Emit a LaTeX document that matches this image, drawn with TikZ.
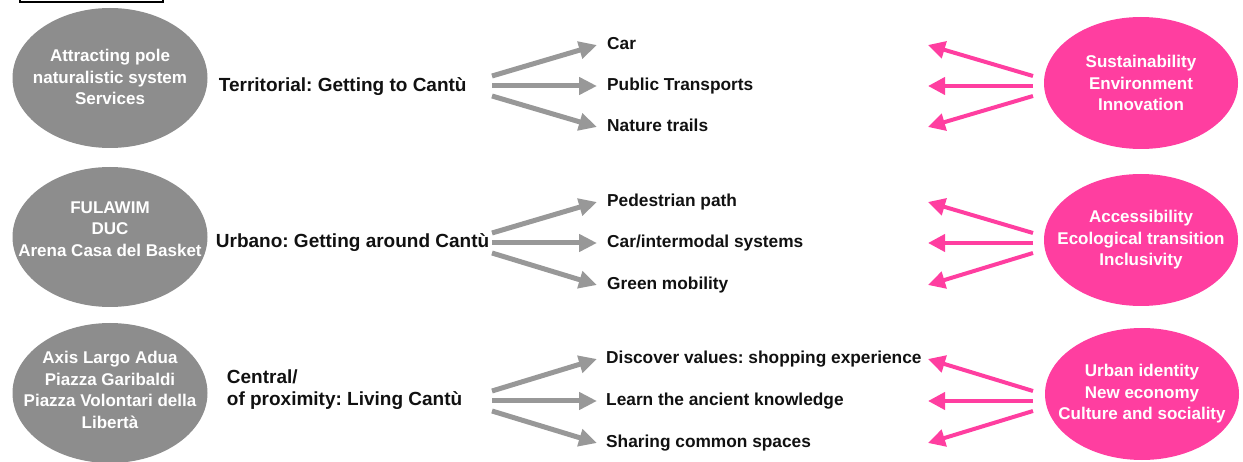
\documentclass[tikz,border=0pt]{standalone}
\usepackage{fontspec}
\setmainfont{Liberation Sans}
\usetikzlibrary{arrows.meta,positioning,shapes.geometric}
\frenchspacing

\definecolor{poleGray}{RGB}{141,141,141}
\definecolor{flowGray}{RGB}{152,152,152}
\definecolor{goalPink}{RGB}{255,62,160}
\definecolor{inkBlack}{RGB}{17,17,17}

\tikzset{
	pole/.style={ellipse, fill=poleGray, minimum width=195pt, minimum height=140pt, inner sep=0pt},
	goal/.style={pole, fill=goalPink, minimum width=194pt, minimum height=132pt},
	poletext/.style={text=white, align=center, inner sep=0pt, font=\bfseries\fontsize{17}{21.5}\selectfont},
	theme/.style={anchor=west, align=left, inner sep=0pt, text=inkBlack, font=\bfseries\fontsize{19}{22}\selectfont},
	choice/.style={anchor=west, inner sep=0pt, text height=12pt, text depth=3.5pt, text=inkBlack, font=\bfseries\fontsize{17.3}{20}\selectfont},
	flow/.style={draw=flowGray, line width=5pt, -{Triangle[length=18pt,width=17pt]}},
	back/.style={draw=goalPink, line width=4pt, -{Triangle[length=17pt,width=17pt]}}
}

\begin{document}
\begin{tikzpicture}[x=1pt, y=-1pt]
	\useasboundingbox (0,0) rectangle (1243,462);

	% box cut off at the top
	\draw[line width=1.2pt] (20,-20) rectangle (163,2);

	% poles on the left
	\node[pole, label={[poletext, yshift=1pt]center:{Attracting pole\\naturalistic system\\Services}}] (a1) at (110,78) {};
	\node[pole, label={[poletext, yshift=8pt]center:{FULAWIM\\DUC\\Arena Casa del Basket}}] (a2) at (110,237) {};
	\node[pole, label={[poletext, yshift=3pt]center:{Axis Largo Adua\\Piazza Garibaldi\\Piazza Volontari della\\Libert\`a}}] (a3) at (110,393) {};

	% scale of each level
	\node[theme] (m1) [right=11pt of a1, yshift=-9pt] {Territorial: Getting to Cant\`u};
	\node[theme] (m2) [right=8pt of a2, yshift=-6pt] {Urbano: Getting around Cant\`u};
	\node[theme] (m3) [right=19pt of a3, yshift=3pt] {Central/\\of proximity: Living Cant\`u};

	% choices
	\node[choice] (c12) at (607,86) {Public Transports};
	\node[choice] (c11) [above=41pt of c12.west, anchor=west] {Car};
	\node[choice] (c13) [below=41pt of c12.west, anchor=west] {Nature trails};

	\node[choice] (c22) at (607,243) {Car/intermodal systems};
	\node[choice] (c21) [above=41pt of c22.west, anchor=west] {Pedestrian path};
	\node[choice] (c23) [below=42pt of c22.west, anchor=west] {Green mobility};

	\node[choice] (c32) at (606,401) {Learn the ancient knowledge};
	\node[choice] (c31) [above=42pt of c32.west, anchor=west] {Discover values: shopping experience};
	\node[choice] (c33) [below=42pt of c32.west, anchor=west] {Sharing common spaces};

	% values on the right
	\node[goal, label={[poletext]center:{Sustainability\\Environment\\Innovation}}] (g1) at (1141,83) {};
	\node[goal, label={[poletext]center:{Accessibility\\Ecological transition\\Inclusivity}}] (g2) at (1141,240) {};
	\node[goal, label={[poletext]center:{Urban identity\\New economy\\Culture and sociality}}] (g3) at (1142,394) {};

	% columns where the arrows start and end
	\coordinate (gx) at (492,0);
	\coordinate (gtip) at (597,0);
	\coordinate (px) at (1033,0);
	\coordinate (ptip) at (928,0);

	\foreach \r in {1,2,3} {
		\draw[flow] ([yshift=10pt]c\r2 -| gx) -- (c\r1 -| gtip);
		\draw[flow] (c\r2 -| gx) -- (c\r2 -| gtip);
		\draw[flow] ([yshift=-10pt]c\r2 -| gx) -- (c\r3 -| gtip);
		\draw[back] ([yshift=10pt]c\r2 -| px) -- (c\r1 -| ptip);
		\draw[back] (c\r2 -| px) -- (c\r2 -| ptip);
		\draw[back] ([yshift=-10pt]c\r2 -| px) -- (c\r3 -| ptip);
	}
\end{tikzpicture}
\end{document}
